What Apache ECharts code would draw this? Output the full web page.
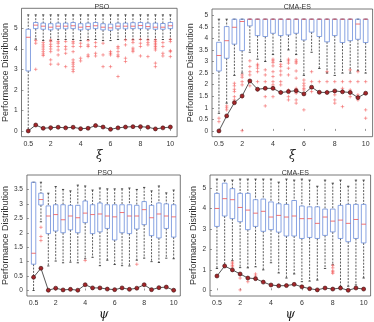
<!DOCTYPE html>
<html>
<head>
<meta charset="utf-8">
<script src="https://cdn.jsdelivr.net/npm/echarts@6.0.0/dist/echarts.min.js"></script>
<style>
  html, body { margin: 0; padding: 0; background: #fff; }
  #chart { width: 374px; height: 322px; }
</style>
</head>
<body>
<div id="chart"></div>
<script>
// parameter values (0.5 .. 10)
const xPos = [0.5, 1, 1.5, 2, 2.5, 3, 3.5, 4, 4.5, 5, 5.5, 6, 6.5, 7, 7.5, 8, 8.5, 9, 9.5, 10]
const xTicks = [0.5, 2, 4, 6, 8, 10]

// box stats: [lower whisker, q1, median, q3, upper whisker]
const psoXiBox = [
  [0, 2.92, 4.56, 4.95, 5.65], [4.47, 4.98, 5.15, 5.28, 5.65], [4.4, 4.95, 5.1, 5.25, 5.65],
  [4.4, 4.92, 5.05, 5.22, 5.65], [4.45, 4.97, 5.1, 5.25, 5.65], [4.45, 4.97, 5.1, 5.25, 5.65],
  [4.45, 4.98, 5.12, 5.28, 5.65], [4.4, 4.92, 5.05, 5.22, 5.65], [4.45, 4.95, 5.08, 5.25, 5.65],
  [4.45, 4.98, 5.12, 5.28, 5.65], [4.4, 4.92, 5.05, 5.22, 5.65], [4.4, 4.9, 5.02, 5.2, 5.65],
  [4.45, 4.97, 5.1, 5.25, 5.65], [4.45, 4.97, 5.1, 5.25, 5.65], [4.45, 4.98, 5.1, 5.27, 5.65],
  [4.45, 4.98, 5.13, 5.28, 5.65], [4.45, 4.97, 5.08, 5.25, 5.65], [4.45, 4.95, 5.05, 5.25, 5.65],
  [4.45, 4.95, 5.05, 5.23, 5.65], [4.45, 4.98, 5.12, 5.28, 5.65]
]
const psoXiOut = [
  [], [4.4, 4.27, 3.0], [4.3, 4.19, 4.09, 3.98, 3.86, 3.75, 3.67],
  [4.43, 4.35, 4.22, 4.11, 3.99, 3.86, 3.46, 3.25], [4.35, 4.27, 4.11, 3.94, 3.7, 3.25],
  [4.35, 4.11, 3.98, 3.78, 3.13], [4.35, 4.27, 4.11, 3.86, 3.46, 3.34, 3.25, 3.13, 3.0, 2.89],
  [4.27, 4.11, 3.54, 3.41], [4.4, 4.19, 4.11, 3.7, 3.62], [4.3, 4.11, 3.78, 3.65],
  [4.27, 3.7, 3.13], [3.86, 3.78, 3.7, 3.13], [4.11, 4.03, 3.86, 3.7, 3.62, 2.65],
  [4.43, 4.19, 3.54, 3.38], [4.43, 4.3, 4.03, 3.94, 3.86], [4.46, 4.27, 4.11, 3.65],
  [4.43, 4.3, 4.19, 3.62], [4.43, 4.35, 4.27, 4.19, 4.11, 4.03, 3.94, 3.3, 3.13],
  [4.3, 4.11, 3.78, 3.65], [4.46, 4.35, 3.91, 3.86, 3.62]
]
const psoXiLine = [0, 0.29, 0.13, 0.16, 0.18, 0.15, 0.18, 0.11, 0.13, 0.26, 0.19, 0.08, 0.15, 0.19, 0.21, 0.21, 0.18, 0.1, 0.15, 0.19]

const cmaXiBox = [
  [0.76, 2.59, 3.26, 3.83, 4.83], [1.2, 3.14, 3.9, 4.51, 4.83], [2.4, 3.75, 4.48, 4.83, 4.83],
  [2.5, 3.47, 4.73, 4.83, 4.83], [3.4, 4.54, 4.83, 4.83, 4.83], [3.1, 4.12, 4.83, 4.83, 4.83],
  [3.0, 4.08, 4.83, 4.83, 4.83], [3.3, 4.22, 4.83, 4.83, 4.83], [3.0, 4.12, 4.83, 4.83, 4.83],
  [3.5, 4.15, 4.83, 4.83, 4.83], [3.3, 4.22, 4.83, 4.83, 4.83], [2.4, 3.93, 4.83, 4.83, 4.83],
  [3.4, 4.27, 4.83, 4.83, 4.83], [2.7, 4.08, 4.83, 4.83, 4.83], [2.5, 3.85, 4.83, 4.83, 4.83],
  [2.4, 4.12, 4.83, 4.83, 4.83], [2.5, 3.82, 4.83, 4.83, 4.83], [2.5, 3.9, 4.83, 4.83, 4.83],
  [2.6, 3.96, 4.62, 4.83, 4.83], [2.5, 3.82, 4.83, 4.83, 4.83]
]
const cmaXiOut = [
  [0.55, 0.4], [1.08, 1.0, 0.91], [2.06, 1.95, 1.8, 1.7, 1.48, 1.34],
  [2.42, 2.32, 2.13, 1.99, 1.46, 0.01], [3.03, 2.78, 2.56, 2.42, 2.13, 1.95],
  [2.88, 2.81, 2.71, 2.56, 2.13, 1.77], [2.64, 2.42, 2.13, 1.84, 1.48, 1.08],
  [3.1, 3.03, 2.95, 2.81, 2.56, 2.35, 2.13, 1.99, 1.84, 1.48], [2.88, 2.78, 2.59, 2.42, 2.13, 1.99, 1.7],
  [3.1, 3.03, 2.93, 2.71, 2.42, 1.77, 1.48, 1.34], [3.07, 2.99, 2.93, 2.59, 2.28, 1.84, 1.63, 1.34, 1.2],
  [2.2, 2.06, 1.95, 1.84, 1.77, 0.91], [2.56, 2.13, 1.7], [2.13], [2.56, 2.13, 1.7],
  [2.13, 1.7, 1.56, 1.34, 1.2], [2.13, 1.84, 1.7, 1.05], [2.64, 2.13, 1.77, 1.48],
  [2.56, 2.13, 1.56, 1.34], [2.13, 1.63, 0.91, 0.55]
]
const cmaXiLine = [0, 0.65, 1.22, 1.51, 2.16, 1.8, 1.84, 1.84, 1.66, 1.7, 1.74, 1.6, 1.89, 1.67, 1.66, 1.73, 1.69, 1.66, 1.44, 1.63]

const psoPsiBox = [
  [0, 0.91, 1.29, 3.75, 3.75], [2.38, 2.96, 3.15, 3.37, 3.75], [0.85, 1.97, 2.58, 2.93, 3.37],
  [1.02, 2.06, 2.63, 2.97, 3.6], [0.96, 2.0, 2.45, 2.97, 3.5], [0.98, 2.1, 2.58, 2.95, 3.45],
  [0.96, 2.0, 2.52, 2.95, 3.65], [1.1, 2.35, 2.68, 3.1, 3.62], [1.15, 1.97, 2.63, 2.97, 3.48],
  [0.86, 2.03, 2.65, 3.03, 3.55], [1.05, 2.15, 2.58, 2.97, 3.52], [0.9, 1.75, 2.55, 2.97, 3.52],
  [0.86, 2.0, 2.7, 2.97, 3.52], [0.85, 1.97, 2.58, 2.97, 3.55], [1.05, 2.13, 2.58, 2.95, 3.5],
  [1.12, 2.28, 2.8, 3.08, 3.57], [1.0, 1.9, 2.52, 2.95, 3.45], [0.97, 1.82, 2.65, 3.03, 3.62],
  [1.12, 2.15, 2.58, 3.0, 3.38], [1.1, 1.85, 2.55, 2.97, 3.48]
]
const psoPsiOut = [
  [], [2.19, 1.87, 1.73], [], [], [], [], [], [1.04], [], [],
  [], [], [], [], [0.91], [], [], [], [], []
]
const psoPsiLine = [0.46, 0.77, 0.01, 0.08, 0.02, 0.04, 0.01, 0.2, 0.09, 0.09, 0.05, 0.03, 0.09, 0.04, 0.08, 0.2, 0.03, 0.1, 0.12, 0.01]

const cmaPsiBox = [
  [1.07, 3.13, 4.01, 4.75, 5.45], [1.19, 3.64, 4.49, 5.25, 5.4], [1.45, 3.51, 4.44, 4.98, 5.4],
  [1.11, 3.36, 4.06, 4.75, 5.45], [1.1, 2.97, 3.93, 4.75, 5.45], [1.15, 3.13, 3.78, 4.44, 5.45],
  [1.0, 2.89, 3.87, 4.47, 5.45], [1.35, 2.97, 3.59, 4.33, 5.45], [0.85, 2.85, 3.67, 4.24, 5.3],
  [0.6, 2.66, 3.59, 4.21, 5.45], [0.8, 2.66, 3.64, 4.4, 5.4], [0.42, 2.54, 3.51, 4.13, 5.45],
  [0.45, 2.59, 3.51, 4.09, 5.4], [0.5, 2.54, 3.28, 4.09, 5.1], [1.07, 2.69, 3.59, 3.98, 5.4],
  [1.25, 2.86, 3.39, 3.98, 5.25], [0.19, 2.54, 3.44, 4.16, 5.4], [0.2, 2.38, 3.28, 4.21, 5.1],
  [0.26, 2.54, 3.47, 4.21, 5.4], [0.6, 2.32, 3.24, 4.21, 5.4]
]
const cmaPsiOut = [
  [], [], [1.38, 1.3, 1.22, 1.15], [0.78, 0.6, 0.02], [0.6, 0.42], [0.8, 0.7], [], [], [], [],
  [], [], [], [], [], [1.22, 1.1, 0.95, 0.9, 0.83], [], [], [], []
]
const cmaPsiLine = [0.7, 1.19, 1.0, 0.8, 0.6, 0.57, 0.4, 0.26, 0.22, 0.23, 0.29, 0.17, 0.08, 0.02, 0.11, 0.06, 0.11, 0.0, 0.11, 0.06]

const yTicks1 = [0, 1, 2, 3, 4, 5]
const yTicks2 = [0, 0.5, 1, 1.5, 2, 2.5, 3, 3.5, 4, 4.5, 5]
const yTicks3 = [0, 0.5, 1, 1.5, 2, 2.5, 3, 3.5]

const panels = [
  { title: 'PSO', xName: 'ξ', box: psoXiBox, out: psoXiOut, line: psoXiLine, yMin: -0.28, yMax: 5.97, yTicks: yTicks1,
    grid: { left: 16.5, top: 8.3, width: 160.6, height: 128.4 } },
  { title: 'CMA-ES', xName: 'ξ', box: cmaXiBox, out: cmaXiOut, line: cmaXiLine, yMin: -0.25, yMax: 5.27, yTicks: yTicks2,
    grid: { left: 212, top: 9, width: 160.6, height: 127.7 } },
  { title: 'PSO', xName: 'ψ', box: psoPsiBox, out: psoPsiOut, line: psoPsiLine, yMin: -0.19, yMax: 4.0, yTicks: yTicks3,
    grid: { left: 19.7, top: 175, width: 160.6, height: 127.7 } },
  { title: 'CMA-ES', xName: 'ψ', box: cmaPsiBox, out: cmaPsiOut, line: cmaPsiLine, yMin: -0.28, yMax: 5.65, yTicks: yTicks1,
    grid: { left: 210, top: 175, width: 160.6, height: 127.7 } }
]

const font = 'Liberation Sans, Arial, sans-serif'

function renderBox(params, api) {
  const x = api.value(0)
  const lo = api.coord([x, api.value(1)])
  const q1 = api.coord([x, api.value(2)])
  const med = api.coord([x, api.value(3)])
  const q3 = api.coord([x, api.value(4)])
  const hi = api.coord([x, api.value(5)])
  const w = api.size([0.3, 0])[0]
  const cx = lo[0]
  const dash = { stroke: '#333', lineWidth: 0.8, lineDash: [2, 1.3] }
  const cap = { stroke: '#222', lineWidth: 0.8 }
  return {
    type: 'group',
    children: [
      { type: 'line', shape: { x1: cx, y1: hi[1], x2: cx, y2: q3[1] }, style: dash },
      { type: 'line', shape: { x1: cx, y1: q1[1], x2: cx, y2: lo[1] }, style: dash },
      { type: 'line', shape: { x1: cx - w / 4, y1: hi[1], x2: cx + w / 4, y2: hi[1] }, style: cap },
      { type: 'line', shape: { x1: cx - w / 4, y1: lo[1], x2: cx + w / 4, y2: lo[1] }, style: cap },
      { type: 'rect', shape: { x: cx - w / 2, y: q3[1], width: w, height: q1[1] - q3[1] },
        style: { fill: 'none', stroke: '#6b8ddb', lineWidth: 0.8 } },
      { type: 'line', shape: { x1: cx - w / 2, y1: med[1], x2: cx + w / 2, y2: med[1] },
        style: { stroke: '#f05050', lineWidth: 0.8 } }
    ]
  }
}

const option = {
  animation: false,
  title: [],
  grid: [],
  xAxis: [],
  yAxis: [],
  series: []
}

panels.forEach((p, i) => {
  option.title.push({
    text: p.title,
    left: p.grid.left + p.grid.width / 2,
    top: p.grid.top - 10,
    textAlign: 'center',
    textStyle: { fontSize: 7, fontWeight: 'normal', color: '#333', fontFamily: font }
  })
  option.grid.push(Object.assign({ show: true, borderColor: '#555', borderWidth: 0.8, backgroundColor: '#fff' }, p.grid))
  option.xAxis.push({
    type: 'value',
    gridIndex: i,
    min: 0.05,
    max: 10.45,
    name: p.xName,
    nameLocation: 'middle',
    nameGap: 13,
    nameTextStyle: { fontSize: 12, fontStyle: 'italic', fontFamily: 'DejaVu Serif, serif', color: '#222' },
    axisLine: { show: false },
    axisTick: { show: true, inside: true, length: 2, customValues: xTicks, lineStyle: { color: '#555', width: 0.6 } },
    axisLabel: { fontSize: 7, color: '#333', fontFamily: font, margin: 4, customValues: xTicks },
    splitLine: { show: false }
  })
  option.yAxis.push({
    type: 'value',
    gridIndex: i,
    min: p.yMin,
    max: p.yMax,
    name: 'Performance Distribution',
    nameLocation: 'middle',
    nameGap: 8,
    nameTextStyle: { fontSize: 9, color: '#333', fontFamily: font },
    axisLine: { show: false },
    axisTick: { show: true, inside: true, length: 2, customValues: p.yTicks, lineStyle: { color: '#555', width: 0.6 } },
    axisLabel: { fontSize: 6.5, color: '#333', fontFamily: font, margin: 4, customValues: p.yTicks },
    splitLine: { show: false }
  })
  option.series.push({
    type: 'custom',
    xAxisIndex: i,
    yAxisIndex: i,
    renderItem: renderBox,
    encode: { x: 0, y: [1, 2, 3, 4, 5] },
    data: p.box.map((b, k) => [xPos[k]].concat(b)),
    z: 2
  })
  const outData = []
  p.out.forEach((vals, k) => vals.forEach(v => outData.push([xPos[k], v])))
  option.series.push({
    type: 'scatter',
    xAxisIndex: i,
    yAxisIndex: i,
    symbol: 'path://M5,0L5,10M0,5L10,5',
    symbolSize: 3.5,
    itemStyle: { color: 'none', borderColor: '#f25a5a', borderWidth: 0.7 },
    data: outData,
    z: 3
  })
  option.series.push({
    type: 'line',
    xAxisIndex: i,
    yAxisIndex: i,
    data: p.line.map((v, k) => [xPos[k], v]),
    symbol: 'circle',
    symbolSize: 4,
    lineStyle: { color: '#444', width: 0.9 },
    itemStyle: { color: '#a3262a', borderColor: '#3a1010', borderWidth: 0.6 },
    z: 4
  })
})

const chart = echarts.init(document.getElementById('chart'))
chart.setOption(option)
</script>
</body>
</html>
